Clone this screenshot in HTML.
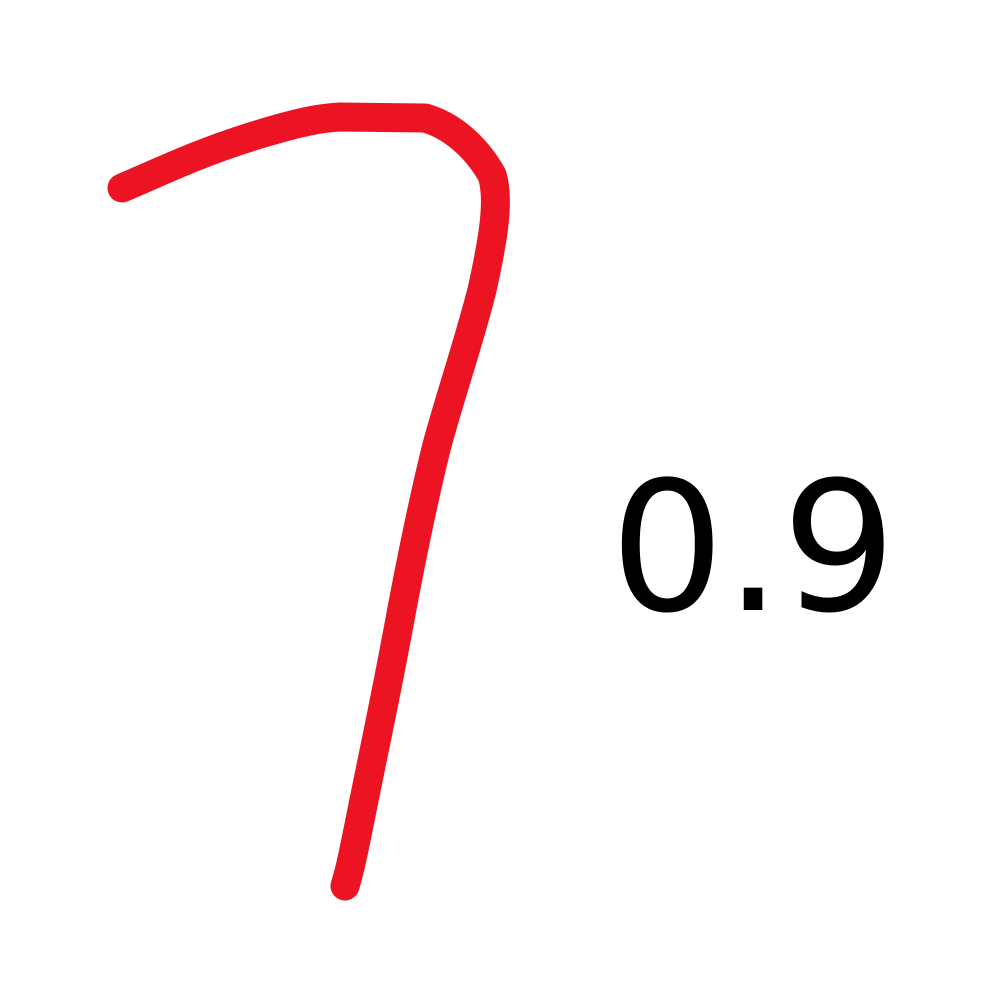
<!DOCTYPE html>
<html>
<head>
<meta charset="utf-8">
<style>
  html, body { margin: 0; padding: 0; background: #ffffff; }
  body { width: 998px; height: 1008px; overflow: hidden; position: relative; }
  svg { position: absolute; left: 0; top: 0; }
</style>
</head>
<body>
<svg width="998" height="1008" viewBox="0 0 998 1008">
  <path
        d="M 122 188 C 160 172, 200 152, 260 134 C 300 122, 320 118, 340 117 L 425 118 C 450 125, 475 145, 492 175 C 500 200, 493 240, 482 290 C 468 345, 452 390, 437 445 C 422 505, 410 565, 398 630 C 385 700, 372 760, 360 820 C 354 850, 350 870, 345 886"
        fill="none" stroke="#ec1422" stroke-width="29" stroke-linecap="round" stroke-linejoin="round"/>
  <text x="610" y="610"
        font-family="DejaVu Sans, Liberation Sans, sans-serif" font-size="180" fill="#000000">0.9</text>
</svg>
</body>
</html>
